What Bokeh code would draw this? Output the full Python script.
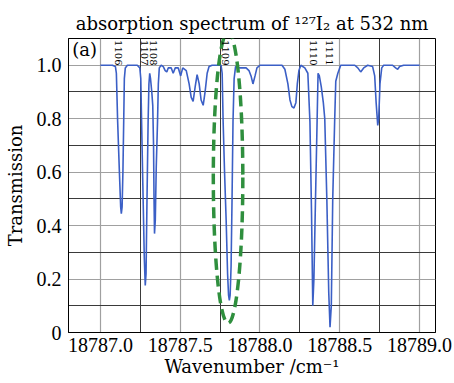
from bokeh.plotting import figure
from bokeh.models import FixedTicker, Grid, Label, Range1d, Title
from bokeh.core.properties import value
from bokeh.embed import file_html
from bokeh.resources import INLINE

# ---- data ----
wavenumber = [
    18787.000, 18787.075, 18787.094, 18787.100, 18787.108, 18787.119, 18787.127, 18787.131,
    18787.136, 18787.141, 18787.146, 18787.150, 18787.156, 18787.169, 18787.231, 18787.247,
    18787.253, 18787.258, 18787.266, 18787.275, 18787.281, 18787.286, 18787.292, 18787.299,
    18787.304, 18787.309, 18787.314, 18787.322, 18787.328, 18787.333, 18787.336, 18787.339,
    18787.344, 18787.350, 18787.358, 18787.363, 18787.369, 18787.381, 18787.394, 18787.406,
    18787.416, 18787.425, 18787.444, 18787.456, 18787.469, 18787.488, 18787.503, 18787.516,
    18787.538, 18787.556, 18787.569, 18787.581, 18787.594, 18787.606, 18787.619, 18787.631,
    18787.644, 18787.656, 18787.669, 18787.681, 18787.700, 18787.756, 18787.763, 18787.769,
    18787.778, 18787.788, 18787.797, 18787.803, 18787.808, 18787.813, 18787.819, 18787.825,
    18787.831, 18787.838, 18787.847, 18787.875, 18787.913, 18787.931, 18787.944, 18787.956,
    18787.969, 18787.981, 18788.000, 18788.138, 18788.156, 18788.175, 18788.188, 18788.200,
    18788.213, 18788.225, 18788.234, 18788.244, 18788.256, 18788.281, 18788.300, 18788.313,
    18788.323, 18788.331, 18788.338, 18788.348, 18788.358, 18788.364, 18788.372, 18788.384,
    18788.397, 18788.406, 18788.419, 18788.431, 18788.439, 18788.447, 18788.456, 18788.468,
    18788.475, 18788.488, 18788.506, 18788.594, 18788.613, 18788.631, 18788.650, 18788.675,
    18788.706, 18788.719, 18788.728, 18788.738, 18788.744, 18788.752, 18788.763, 18788.775,
    18788.831, 18788.850, 18788.863, 18788.875, 18788.900, 18789.000,
]
transmission = [
    1.0, 1.0, 0.995, 0.97, 0.79, 0.60, 0.47, 0.445,
    0.47, 0.60, 0.79, 0.95, 0.99, 1.0, 1.0, 0.99,
    0.95, 0.79, 0.55, 0.28, 0.176, 0.22, 0.50, 0.79,
    0.93, 0.97, 0.95, 0.90, 0.85, 0.70, 0.50, 0.37,
    0.42, 0.62, 0.79, 0.93, 0.99, 1.0, 0.995, 0.98,
    0.975, 0.99, 0.99, 0.97, 0.99, 0.99, 0.96, 0.99,
    0.98, 0.93, 0.88, 0.865, 0.92, 0.965, 0.93, 0.87,
    0.85, 0.90, 0.97, 0.995, 1.0, 1.0, 0.97, 0.79,
    0.60, 0.42, 0.22, 0.14, 0.12, 0.14, 0.25, 0.50,
    0.79, 0.95, 0.995, 0.99, 0.99, 0.98, 0.96, 0.93,
    0.96, 0.99, 1.0, 1.0, 0.985, 0.93, 0.87, 0.845,
    0.84, 0.86, 0.93, 0.98, 1.0, 0.99, 0.97, 0.79,
    0.45, 0.10, 0.20, 0.50, 0.79, 0.97, 0.96, 0.92,
    0.86, 0.80, 0.50, 0.15, 0.02, 0.10, 0.50, 0.79,
    0.94, 0.97, 1.0, 1.0, 0.99, 0.975, 0.99, 1.0,
    0.995, 0.96, 0.86, 0.775, 0.80, 0.93, 0.99, 1.0,
    1.0, 0.99, 0.985, 0.995, 1.0, 1.0,
]

line_ids = ["1106", "1107", "1108", "1109", "1110", "1111"]
line_id_pos = [18787.1125, 18787.276, 18787.332, 18787.781, 18788.333, 18788.438]

x_major = [18787.0, 18787.5, 18788.0, 18788.5, 18789.0]
x_major_labels = ["18787.0", "18787.5", "18788.0", "18788.5", "18789.0"]
x_minor = [18787.25, 18787.75, 18788.25, 18788.75]
y_major = [0, 0.2, 0.4, 0.6, 0.8, 1.0]
y_major_labels = ["0", "0.2", "0.4", "0.6", "0.8", "1.0"]
y_minor = [0.1, 0.3, 0.5, 0.7, 0.9]

ellipse_center = (18787.80, 0.58)
ellipse_size = (0.185, 1.09)

SERIF = "DejaVu Serif"
TICKFONT = "Liberation Serif"

p = figure(width=454, height=383, output_backend="svg", toolbar_location=None,
           x_range=Range1d(18786.8, 18789.1), y_range=Range1d(0, 1.1),
           min_border_left=68, min_border_right=19, min_border_top=38, min_border_bottom=51)

p.background_fill_color = "white"
p.border_fill_color = "white"
p.outline_line_color = "black"
p.outline_line_width = 1

# title
p.title = Title(text="absorption spectrum of \u00b9\u00b2\u2077I\u2082 at 532 nm", align="center",
                text_font=SERIF, text_font_size="18px", text_font_style="normal",
                text_color="black", standoff=10)

# grids
p.xgrid.ticker = FixedTicker(ticks=x_major)
p.ygrid.ticker = FixedTicker(ticks=y_major)
p.xgrid.grid_line_color = "#a0a0a0"
p.ygrid.grid_line_color = "#a0a0a0"
p.xgrid.grid_line_width = 1.2
p.ygrid.grid_line_width = 1.2
p.add_layout(Grid(dimension=0, ticker=FixedTicker(ticks=x_minor), grid_line_color="#3a3a3a", grid_line_width=1))
p.add_layout(Grid(dimension=1, ticker=FixedTicker(ticks=y_minor), grid_line_color="#3a3a3a", grid_line_width=1))

# axes
for ax in (p.xaxis[0], p.yaxis[0]):
    ax.major_tick_in = 0
    ax.major_tick_out = 0
    ax.minor_tick_in = 0
    ax.minor_tick_out = 0
    ax.axis_line_color = "black"
    ax.major_label_text_font = TICKFONT
    ax.major_label_text_font_size = "20px"
    ax.major_label_text_color = "black"
    ax.axis_label_text_font = SERIF
    ax.axis_label_text_font_size = "18px"
    ax.axis_label_text_font_style = "normal"
    ax.axis_label_text_color = "black"

p.xaxis.ticker = FixedTicker(ticks=x_major)
p.xaxis.major_label_overrides = dict(zip(x_major, x_major_labels))
p.yaxis.ticker = FixedTicker(ticks=y_major)
p.yaxis.major_label_overrides = dict(zip(y_major, y_major_labels))
p.xaxis.axis_label = "Wavenumber /cm\u207b\u00b9"
p.yaxis.axis_label = "Transmission"
p.xaxis.major_label_standoff = 5
p.xaxis.axis_label_standoff = 1
p.yaxis.major_label_standoff = 7
p.yaxis.axis_label_standoff = 8

# spectrum
p.line(wavenumber, transmission, line_color="#3b5fc6", line_width=1.6)

# highlight ellipse
p.ellipse(x=[ellipse_center[0]], y=[ellipse_center[1]], width=[ellipse_size[0]], height=[ellipse_size[1]],
          fill_alpha=0, line_color="#2f8f3e", line_width=3.5, line_dash="11 6")

# line id labels
p.text(x=line_id_pos, y=[1.094] * len(line_ids), text=line_ids, angle=-1.5708,
       text_font=value(SERIF), text_font_size="10px", text_align="left", text_baseline="middle",
       text_color="black")

p.add_layout(Label(x=18786.823, y=1.097, text="(a)", text_font=SERIF, text_font_size="18px",
                   text_align="left", text_baseline="top", text_color="black"))

open("out.html", "w").write(file_html(p, INLINE))
